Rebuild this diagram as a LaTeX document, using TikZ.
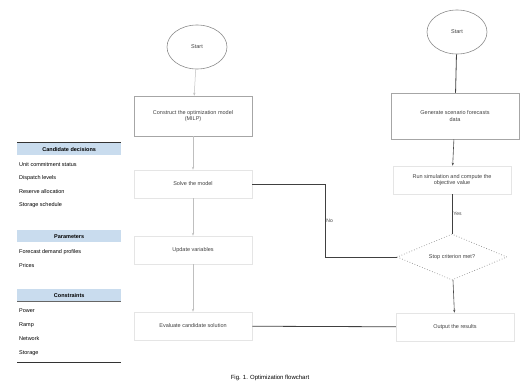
\documentclass[tikz,border=0pt]{standalone}
\usepackage{fontspec}
\setmainfont{Liberation Sans}
\usetikzlibrary{shapes.geometric,arrows.meta,calc}
\definecolor{hdr}{HTML}{C9DCEE}
\begin{document}
\begin{tikzpicture}[x=1pt,y=-1pt,
  every node/.style={font=\fontsize{5.5}{6.6}\selectfont, align=center, inner sep=1pt, text=black!75},
  startnode/.style={ellipse, draw=black!45, line width=0.6pt, minimum width=60pt, minimum height=44pt},
  procbox/.style={rectangle, draw=black!35, line width=0.5pt, minimum width=118pt, minimum height=40pt},
  softbox/.style={rectangle, draw=black!10, line width=0.5pt, minimum width=118pt, minimum height=28pt},
  decision/.style={diamond, draw=black!45, dotted, line width=0.7pt, aspect=2.4, minimum width=110pt, minimum height=46pt},
  link/.style={draw=black!75, line width=0.8pt},
  faint/.style={draw=black!25, line width=0.5pt, -{Stealth[length=3pt]}},
  flow/.style={draw=black!70, line width=0.6pt, -{Stealth[length=3pt]}},
  hdrbox/.style={rectangle, fill=hdr, minimum width=104pt, minimum height=12pt, text=black, font=\fontsize{5.5}{6.6}\selectfont\bfseries},
  legtext/.style={anchor=west, align=left, text=black, font=\fontsize{5.5}{6.6}\selectfont},
  lab/.style={font=\fontsize{5}{6}\selectfont}
]
\useasboundingbox (0,0) rectangle (527,386);

% start nodes
\node[startnode] (sL) at (197,47) {Start};
\node[startnode] (sR) at (457,32) {Start};

% left column
\node[procbox] (b1) at (193,116) {Construct the optimization model\\(MILP)};
\node[softbox] (l2) at (193,184) {Solve the model};
\node[softbox] (l3) at (193,250) {Update variables};
\node[softbox] (l4) at (193,326) {Evaluate candidate solution};

% right column
\node[procbox, minimum width=128pt, minimum height=46pt] (r1) at (455,116) {Generate scenario forecasts\\data};
\node[softbox, minimum width=118pt] (r2) at (452,180) {Run simulation and compute the\\objective value};
\node[decision] (d) at (452,257) {Stop criterion met?};
\node[softbox] (r4) at (455,327) {Output the results};

% connectors
\draw[faint] (sL) -- (b1);
\draw[faint] (b1) -- (l2);
\draw[faint] (l2) -- (l3);
\draw[faint] (l3) -- (l4);
\draw[link] (sR) -- (r1);
\draw[flow] (r1) -- (r2);
\draw[link] (r2) -- node[lab, right] {Yes} (d);
\draw[flow] (d) -- (r4);
\coordinate (m) at (325,184);
\draw[link] (l2) -- (m);
\draw[link] (d.west) -| node[lab, pos=0.75, right] {No} (m);
\draw[link] (l4) -- (r4);

% legend panels
\draw[black!80, line width=0.9pt] (17,142) -- (121,142);
\node[hdrbox, anchor=north west] (h1) at (17,143) {Candidate decisions};
\node[legtext] (t11) at (18,165) {Unit commitment status};
\node[legtext] (t12) at (18,178) {Dispatch levels};
\node[legtext] (t13) at (18,192) {Reserve allocation};
\node[legtext] (t14) at (18,205) {Storage schedule};

\node[hdrbox, anchor=north west] (h2) at (17,230) {Parameters};
\node[legtext] (t21) at (18,252) {Forecast demand profiles};
\node[legtext] (t22) at (18,266) {Prices};

\node[hdrbox, anchor=north west] (h3) at (17,289) {Constraints};
\draw[black!60, line width=0.6pt] (17,301) -- (121,301);
\node[legtext] (t31) at (18,311) {Power};
\node[legtext] (t32) at (18,325) {Ramp};
\node[legtext] (t33) at (18,339) {Network};
\node[legtext] (t34) at (18,353) {Storage};
\draw[black!80, line width=0.9pt] (17,362) -- (121,362);

% caption
\node[font=\fontsize{6}{7}\selectfont, text=black] (cap) at (270,378) {Fig. 1. Optimization flowchart};
\end{tikzpicture}
\end{document}
